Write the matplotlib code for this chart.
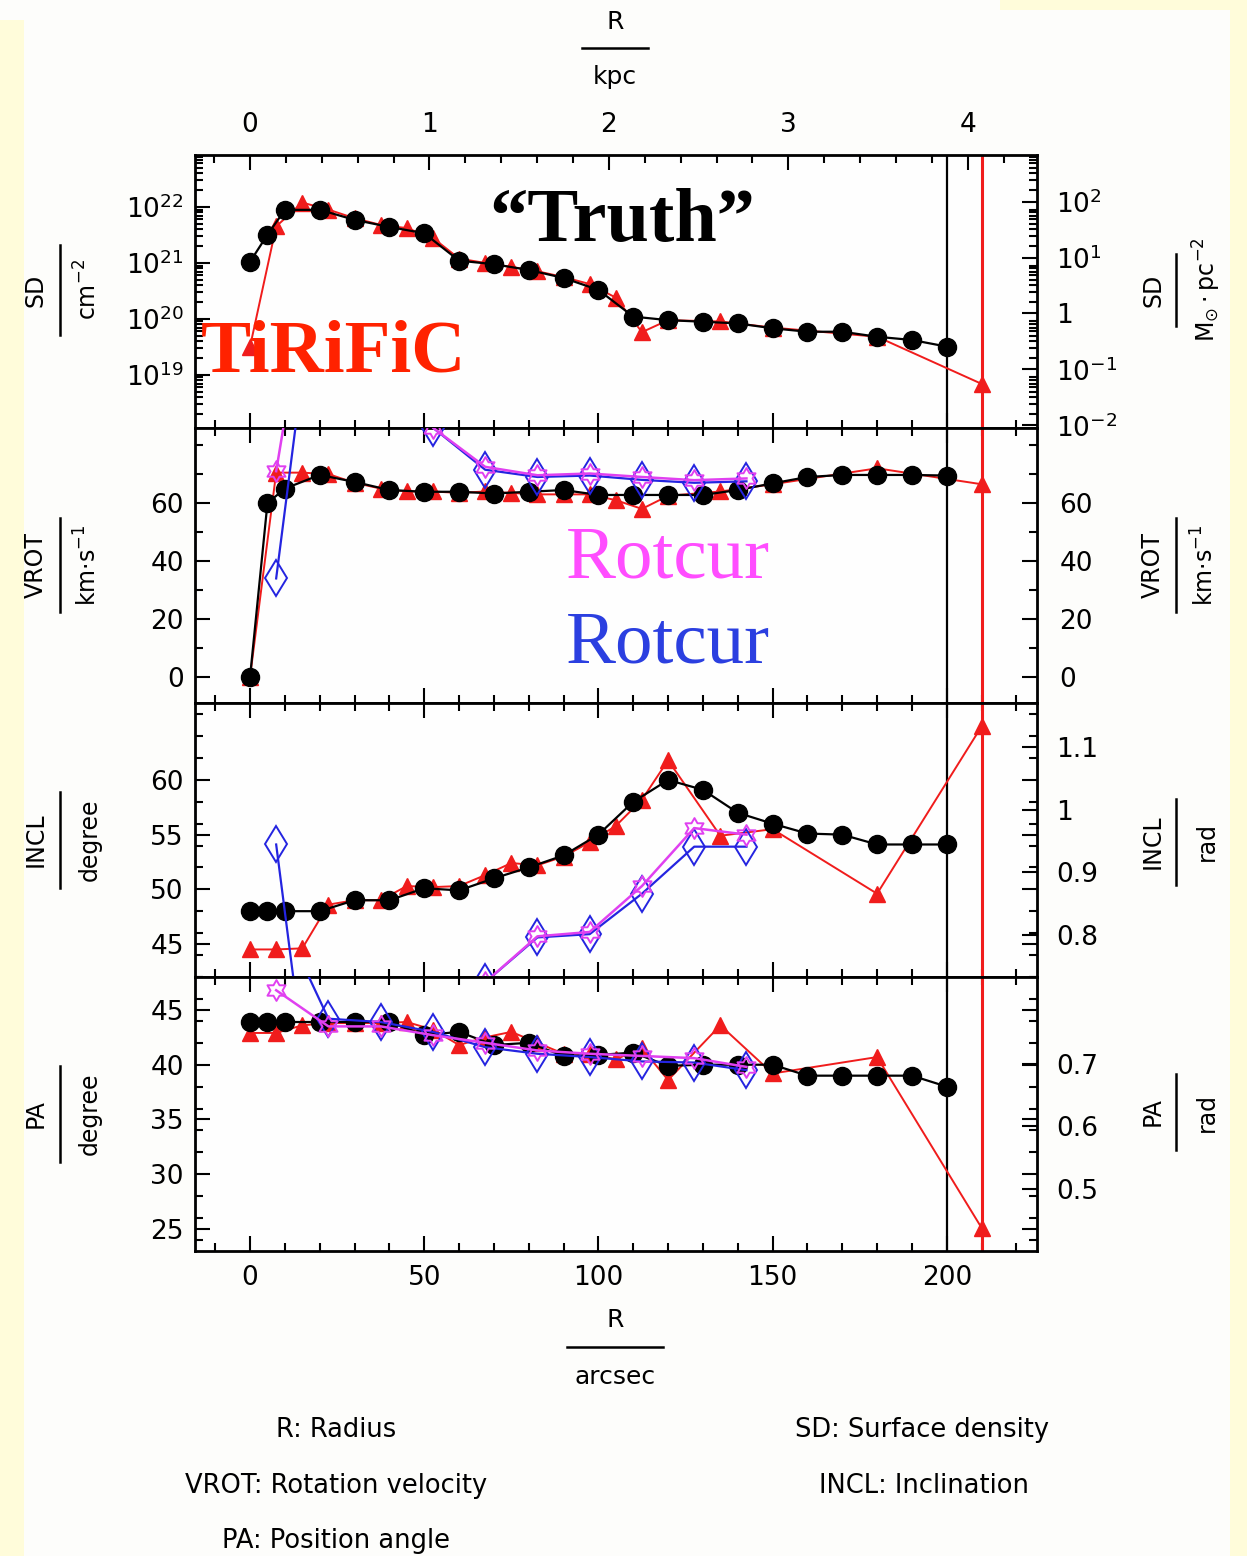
import numpy as np
import matplotlib
matplotlib.use("Agg")
import matplotlib.pyplot as plt
from matplotlib.lines import Line2D
from matplotlib.patches import Rectangle
from matplotlib.path import Path
from matplotlib.ticker import (MultipleLocator, FixedLocator, LogLocator,
                               NullFormatter, NullLocator, FormatStrFormatter)

# radii in arcsec
r_truth = [0, 5, 10, 20, 30, 40, 50, 60, 70, 80, 90, 100, 110, 120, 130,
           140, 150, 160, 170, 180, 190, 200]
r_tir = [0, 7.5, 15, 22.5, 30, 37.5, 45, 52.5, 60, 67.5, 75, 82.5, 90, 97.5,
         105, 112.5, 120, 135, 150, 180, 210]
r_rot = [7.5, 22.5, 37.5, 52.5, 67.5, 82.5, 97.5, 112.5, 127.5, 142.5]

# surface density, cm^-2
sd_truth = [1.05e21, 3.2e21, 8.9e21, 8.9e21, 5.9e21, 4.4e21, 3.4e21, 1.1e21,
            9.5e20, 7.5e20, 5.4e20, 3.3e20, 1.1e20, 9.5e19, 8.9e19, 8.3e19,
            6.8e19, 5.9e19, 5.9e19, 4.8e19, 4.2e19, 3.2e19]
sd_tir = [3.2e19, 4.5e21, 1.2e22, 9.0e21, 6.3e21, 4.8e21, 4.2e21, 2.8e21,
          1.2e21, 1.0e21, 8.5e20, 7.1e20, 5.6e20, 4.2e20, 2.4e20, 5.8e19,
          9.5e19, 9.0e19, 7.0e19, 4.8e19, 6.9e18]

# rotation velocity, km/s
vrot_truth = [0, 60, 65, 69.7, 67.3, 64.5, 63.9, 63.9, 63.3, 63.9, 64.5, 62.8,
              62.8, 62.8, 62.8, 64.5, 66.8, 69, 69.7, 69.7, 69.7, 69.5]
vrot_tir = [0, 70.5, 70.5, 70, 67, 65, 64, 64, 63.5, 64, 63.5, 63, 63, 63,
            61, 58, 62.5, 64, 66.5, 72, 66.5]
vrot_rot_m = [71, 180, 150, 86, 72.5, 69.6, 70.2, 69, 67.9, 68.5]
vrot_rot_b = [34, 175, 150, 86, 71.5, 69, 69.5, 68, 67, 67.5]

# inclination, degree
incl_truth = [48, 48, 48, 48, 49, 49, 50.1, 49.9, 51, 52, 53.1, 55, 58, 60,
              59.1, 57, 56, 55.1, 55, 54.1, 54.1, 54.1]
incl_tir = [44.5, 44.5, 44.6, 48.6, 49, 49, 50.3, 50.2, 50.3, 51.3, 52.4, 52.2,
            53, 54.3, 55.8, 58.2, 61.8, 54.9, 55.5, 49.6, 64.9]
incl_rot_m = [np.nan, np.nan, np.nan, np.nan, 41.5, 45.7, 46.1, 50.3, 55.6, 55.0]
incl_rot_b = [54.1, 17, np.nan, np.nan, 41.5, 45.6, 45.9, 49.6, 53.9, 53.9]

# position angle, degree
pa_truth = [43.9, 43.9, 43.9, 43.9, 43.9, 43.9, 42.7, 43.0, 41.8, 42.0, 40.8,
            40.9, 41.1, 39.9, 40.0, 40.0, 40.0, 39.0, 39.0, 39.0, 39.0, 38.0]
pa_tir = [42.9, 42.9, 43.6, 43.8, 43.8, 43.8, 43.9, 43.2, 41.8, 42.5, 43.0,
          42.0, 41.0, 41.0, 40.5, 41.5, 38.6, 43.6, 39.2, 40.7, 25.1]
pa_rot_m = [46.8, 43.5, 43.5, 42.7, 42.0, 41.3, 41.0, 40.8, 40.6, 39.8]
pa_rot_b = [54.4, 44.2, 43.9, 43.0, 41.6, 41.0, 40.7, 40.3, 40.2, 39.5]

ARCSEC_PER_KPC = 51.5
HI_TO_MSUN = 1.25e20

W, H = 1247, 1556
RED = "#F01C1C"
MAG = "#E040F0"
BLUE = "#2424E0"
TICK_FS = 19


def fx(x):
    return x / W


def fy(y):
    return 1 - y / H


# open hexagram marker for the magenta rotcur points
ang = np.pi / 2 + np.arange(12) * np.pi / 6
rad = np.where(np.arange(12) % 2 == 0, 1.0, 1 / np.sqrt(3))
verts = np.column_stack([rad * np.cos(ang), rad * np.sin(ang)])
hexagram = Path(np.vstack([verts, verts[:1]]), closed=True)

plt.rcParams["font.family"] = "DejaVu Sans"

fig = plt.figure(figsize=(W / 100, H / 100), dpi=100, facecolor="#FFFCDA")
fig.add_artist(Rectangle((fx(24), 0), fx(1230) - fx(24), fy(10),
                         transform=fig.transFigure, facecolor="#FDFDFB",
                         edgecolor="none", zorder=-10))
fig.add_artist(Rectangle((0, fy(10)), fx(1000), 10 / H,
                         transform=fig.transFigure, facecolor="#FDFDFB",
                         edgecolor="none", zorder=-10))
fig.add_artist(Rectangle((0, fy(20)), fx(24), 20 / H,
                         transform=fig.transFigure, facecolor="#FDFDFB",
                         edgecolor="none", zorder=-10))

edges = [155, 428, 703, 977, 1251]
axes = []
for i in range(4):
    ax = fig.add_axes([fx(195), fy(edges[i + 1]), fx(1037) - fx(195),
                       fy(edges[i]) - fy(edges[i + 1])])
    ax.set_facecolor("#FEFEFE")
    ax.set_xlim(-15.8, 225.9)
    ax.xaxis.set_major_locator(MultipleLocator(50))
    ax.xaxis.set_minor_locator(MultipleLocator(10))
    ax.tick_params(which="both", direction="in", top=(i > 0), bottom=True,
                   left=True, right=True, width=1.5, labelsize=TICK_FS)
    ax.tick_params(which="major", length=11)
    ax.tick_params(which="minor", length=6)
    ax.tick_params(axis="y", pad=8)
    ax.tick_params(axis="x", pad=10)
    if i < 3:
        ax.tick_params(labelbottom=False)
    for s in ax.spines.values():
        s.set_linewidth(2)
    ax.axvline(200, color="black", lw=1.6, zorder=2)
    ax.axvline(210, color=RED, lw=2.2, zorder=2)
    axes.append(ax)

ax_sd, ax_v, ax_i, ax_p = axes


def draw(ax, tir, truth, rot_b=None, rot_m=None):
    ax.plot(r_tir, tir, color=RED, lw=1.4, marker="^", ms=12, mec=RED,
            mfc=RED, zorder=3)
    ax.plot(r_truth, truth, color="black", lw=1.6, marker="o", ms=13,
            zorder=4)
    if rot_b is not None:
        ax.plot(r_rot, rot_b, color=BLUE, lw=1.6, marker="d", ms=18,
                mfc="none", mec=BLUE, mew=1.4, zorder=5)
    if rot_m is not None:
        ax.plot(r_rot, rot_m, color=MAG, lw=1.8, marker=hexagram, ms=15,
                mfc="none", mec=MAG, mew=1.4, zorder=6)


# surface density
ax_sd.set_yscale("log")
ax_sd.set_ylim(10 ** 18.05, 10 ** 22.93)
ax_sd.yaxis.set_major_locator(LogLocator(base=10, numticks=20))
ax_sd.yaxis.set_minor_locator(LogLocator(base=10, subs=np.arange(2, 10), numticks=20))
ax_sd.yaxis.set_minor_formatter(NullFormatter())
draw(ax_sd, sd_tir, sd_truth)
sec = ax_sd.secondary_yaxis("right", functions=(lambda n: n / HI_TO_MSUN,
                                                 lambda m: m * HI_TO_MSUN))
sec.set_yticks([1e-2, 1e-1, 1, 10, 100])
sec.set_yticklabels([r"$10^{-2}$", r"$10^{-1}$", "1", r"$10^{1}$", r"$10^{2}$"])
sec.yaxis.set_minor_locator(NullLocator())
sec.tick_params(direction="in", length=11, width=1.5, labelsize=TICK_FS, pad=14)
ax_sd.tick_params(axis="y", which="both", right=False)
ax_sd.tick_params(axis="y", which="minor", right=True)

top = ax_sd.secondary_xaxis("top", functions=(lambda a: a / ARCSEC_PER_KPC,
                                               lambda k: k * ARCSEC_PER_KPC))
top.xaxis.set_major_locator(FixedLocator([0, 1, 2, 3, 4]))
top.xaxis.set_minor_locator(MultipleLocator(0.2))
top.tick_params(which="both", direction="in", width=1.5, labelsize=TICK_FS, pad=12)
top.tick_params(which="major", length=11)
top.tick_params(which="minor", length=6)

# rotation velocity
ax_v.set_ylim(-8.97, 85.9)
ax_v.yaxis.set_major_locator(FixedLocator([0, 20, 40, 60]))
ax_v.yaxis.set_minor_locator(MultipleLocator(10))
draw(ax_v, vrot_tir, vrot_truth, vrot_rot_b, vrot_rot_m)
sec = ax_v.secondary_yaxis("right")
sec.set_yticks([0, 20, 40, 60])
sec.tick_params(direction="in", length=0, labelsize=TICK_FS, pad=16)

# inclination
ax_i.set_ylim(41.98, 67.04)
ax_i.yaxis.set_major_locator(FixedLocator([45, 50, 55, 60]))
ax_i.yaxis.set_minor_locator(MultipleLocator(2))
draw(ax_i, incl_tir, incl_truth, incl_rot_b, incl_rot_m)
sec = ax_i.secondary_yaxis("right", functions=(np.deg2rad, np.rad2deg))
sec.set_yticks([0.8, 0.9, 1.0, 1.1])
sec.yaxis.set_major_formatter(FormatStrFormatter("%g"))
sec.yaxis.set_minor_locator(NullLocator())
sec.tick_params(direction="in", length=11, width=1.5, labelsize=TICK_FS, pad=14)

# position angle
ax_p.set_ylim(22.99, 48.01)
ax_p.yaxis.set_major_locator(FixedLocator([25, 30, 35, 40, 45]))
ax_p.yaxis.set_minor_locator(MultipleLocator(2))
draw(ax_p, pa_tir, pa_truth, pa_rot_b, pa_rot_m)
sec = ax_p.secondary_yaxis("right", functions=(np.deg2rad, np.rad2deg))
sec.set_yticks([0.5, 0.6, 0.7])
sec.yaxis.set_major_formatter(FormatStrFormatter("%g"))
sec.yaxis.set_minor_locator(NullLocator())
sec.tick_params(direction="in", length=11, width=1.5, labelsize=TICK_FS, pad=14)


# stacked "quantity / unit" labels
def vfrac(xn, xb, xd, yc, half, num, den):
    fig.text(fx(xn), fy(yc), num, rotation=90, ha="center", va="center",
             fontsize=17)
    fig.add_artist(Line2D([fx(xb), fx(xb)], [fy(yc - half), fy(yc + half)],
                          color="black", lw=1.8))
    fig.text(fx(xd), fy(yc), den, rotation=90, ha="center", va="center",
             fontsize=17)


def hfrac(xc, yn, yb, yd, half, num, den):
    fig.text(fx(xc), fy(yn), num, ha="center", va="center", fontsize=18)
    fig.add_artist(Line2D([fx(xc - half), fx(xc + half)], [fy(yb), fy(yb)],
                          color="black", lw=1.8))
    fig.text(fx(xc), fy(yd), den, ha="center", va="center", fontsize=18)


vfrac(36, 60, 88, 290, 45, "SD", r"cm$^{-2}$")
vfrac(36, 60, 88, 565, 47, "VROT", r"km$\cdot$s$^{-1}$")
vfrac(36, 60, 90, 840, 48, "INCL", "degree")
vfrac(36, 60, 90, 1114, 48, "PA", "degree")
vfrac(1153, 1176, 1207, 290, 36, "SD", r"M$_{\odot}\cdot$pc$^{-2}$")
vfrac(1153, 1176, 1205, 565, 47, "VROT", r"km$\cdot$s$^{-1}$")
vfrac(1153, 1176, 1207, 842, 43, "INCL", "rad")
vfrac(1153, 1176, 1207, 1112, 38, "PA", "rad")

hfrac(615, 22, 48, 77, 33, "R", "kpc")
hfrac(615, 1320, 1347, 1377, 48, "R", "arcsec")

# method annotations
fig.text(fx(622), fy(222), "\u201cTruth\u201d", ha="center", va="center",
         fontsize=55, fontweight="bold", family="Liberation Serif", color="black")
fig.text(fx(333), fy(353), "TiRiFiC", ha="center", va="center",
         fontsize=54, fontweight="bold", family="Liberation Serif", color="#FF2200")
fig.text(fx(668), fy(560), "Rotcur", ha="center", va="center",
         fontsize=54, family="Liberation Serif", color="#FF4DFF")
fig.text(fx(668), fy(645), "Rotcur", ha="center", va="center",
         fontsize=54, family="Liberation Serif", color="#2B3FE0")

# glossary
for x, y, s in [(336, 1430, "R: Radius"), (922, 1430, "SD: Surface density"),
                (336, 1486, "VROT: Rotation velocity"),
                (924, 1486, "INCL: Inclination"),
                (336, 1541, "PA: Position angle")]:
    fig.text(fx(x), fy(y), s, ha="center", va="center", fontsize=18.5)

fig.savefig("out.png", dpi=100, facecolor=fig.get_facecolor())
